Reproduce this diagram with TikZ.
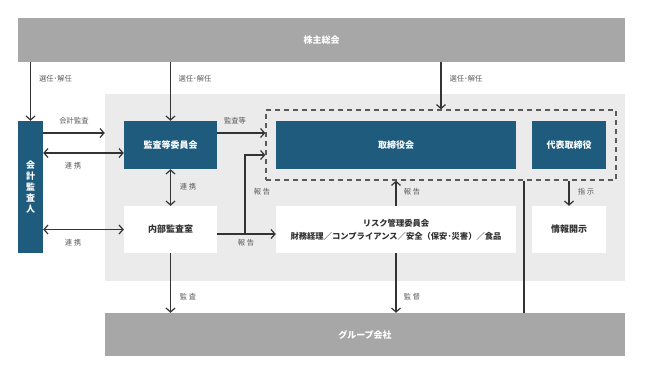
\documentclass[tikz,border=0pt]{standalone}
\usepackage{fontspec}
\setmainfont{Noto Sans CJK JP}
\usetikzlibrary{arrows.meta}
\definecolor{blu}{HTML}{1E5B7D}
\definecolor{gry}{HTML}{A6A7A6}
\definecolor{lgry}{HTML}{EBEBEB}
\definecolor{lbl}{HTML}{5A5A5A}
\definecolor{ln}{HTML}{333333}
\tikzset{
  bluebox/.style={fill=blu, text=white, font=\fontsize{9}{11}\selectfont\bfseries, inner sep=0pt, align=center},
  whitebox/.style={fill=white, text=ln, font=\fontsize{9}{11}\selectfont\bfseries, inner sep=0pt, align=center},
  graybar/.style={fill=gry, text=white, font=\fontsize{9}{11}\selectfont\bfseries, inner sep=0pt},
  arr/.style={draw=ln, line width=1.3pt, -{Straight Barb[length=4pt,width=9pt,line width=1.2pt]}},
  darr/.style={draw=ln, line width=1.3pt, {Straight Barb[length=4pt,width=9pt,line width=1.2pt]}-{Straight Barb[length=4pt,width=9pt,line width=1.2pt]}},
  lab/.style={text=lbl, font=\fontsize{7.3}{8}\selectfont, inner sep=0pt},
}
\begin{document}
\begin{tikzpicture}[x=1pt,y=-1pt]
\useasboundingbox (0,0) rectangle (650,375);
% backgrounds
\node[fill=lgry, minimum width=520pt, minimum height=187pt, inner sep=0pt] (bg) at (365,187.5) {};
\node[graybar, minimum width=607pt, minimum height=44pt] (top) at (321.5,40) {株主総会};
\node[graybar, minimum width=520pt, minimum height=43pt] (group) at (365,334.5) {グループ会社};
% dashed frame
\node[draw=lbl, line width=1.3pt, dash pattern=on 5pt off 4pt, minimum width=350pt, minimum height=70pt, inner sep=0pt] (dashed) at (441,145) {};
% boxes
\node[bluebox, minimum width=25pt, minimum height=132pt, font=\fontsize{9}{11.2}\selectfont\bfseries] (auditor) at (30.5,187) {会\\計\\監\\査\\人};
\node[bluebox, minimum width=93pt, minimum height=48pt] (kansa) at (170.5,145) {監査等委員会};
\node[bluebox, minimum width=240pt, minimum height=48pt] (board) at (396,145) {取締役会};
\node[bluebox, minimum width=74pt, minimum height=48pt] (ceo) at (569,145) {代表取締役};
\node[whitebox, minimum width=93pt, minimum height=47pt] (internal) at (170.5,229.5) {内部監査室};
\node[whitebox, minimum width=240pt, minimum height=47pt, font=\fontsize{8.3}{13}\selectfont\bfseries] (risk) at (396,229.5) {リスク管理委員会\\財務経理／コンプライアンス／安全（保安･災害）／食品};
\node[whitebox, minimum width=74pt, minimum height=47pt] (disc) at (569,229.5) {情報開示};
% connectors
\draw[arr] (top.south -| auditor.north) -- (auditor.north);
\draw[arr] (top.south -| kansa.north) -- (kansa.north);
\draw[arr] (top.south -| dashed.north) -- (dashed.north);
\coordinate (a1) at (auditor.east |- 0,133);
\coordinate (a2) at (bg.west |- 0,133);
\draw[arr] (a1) -- (a2);
\coordinate (b1) at (auditor.east |- 0,153);
\draw[darr] (b1) -- (kansa.west |- b1);
\draw[darr] (kansa.south) -- (internal.north);
\draw[darr] (auditor.east |- internal.west) -- (internal.west);
\coordinate (c1) at (kansa.east |- 0,133);
\draw[arr] (c1) -- (dashed.west |- c1);
\coordinate (d1) at (internal.east |- 0,234);
\coordinate (d2) at (245,234);
\draw[arr] (d1) -- (risk.west |- d1);
\draw[arr] (d2) -- (245,155) -- (dashed.west |- 0,155);
\draw[arr] (risk.north) -- (risk.north |- dashed.south);
\draw[arr] (risk.south) -- (risk.south |- group.north);
\draw[arr] (internal.south) -- (internal.south |- group.north);
\draw[ln, line width=1.3pt] (dashed.south -| 524,0) -- (group.north -| 524,0);
\draw[arr] (disc.north |- dashed.south) -- (disc.north);
% labels
\node[lab] (l1) at (55.5,79) {選任･解任};
\node[lab] (l2) at (195,79) {選任･解任};
\node[lab] (l3) at (466,79) {選任･解任};
\node[lab] (l4) at (74,121) {会計監査};
\node[lab] (l5) at (73,166) {連 携};
\node[lab] (l6) at (188,187) {連 携};
\node[lab] (l7) at (73,243) {連 携};
\node[lab] (l8) at (235,121) {監査等};
\node[lab] (l9) at (262,192) {報 告};
\node[lab] (l10) at (246,243) {報 告};
\node[lab] (l11) at (412,192) {報 告};
\node[lab] (l12) at (412,297) {監 督};
\node[lab] (l13) at (188,297) {監 査};
\node[lab] (l14) at (586,192) {指 示};
\end{tikzpicture}
\end{document}
